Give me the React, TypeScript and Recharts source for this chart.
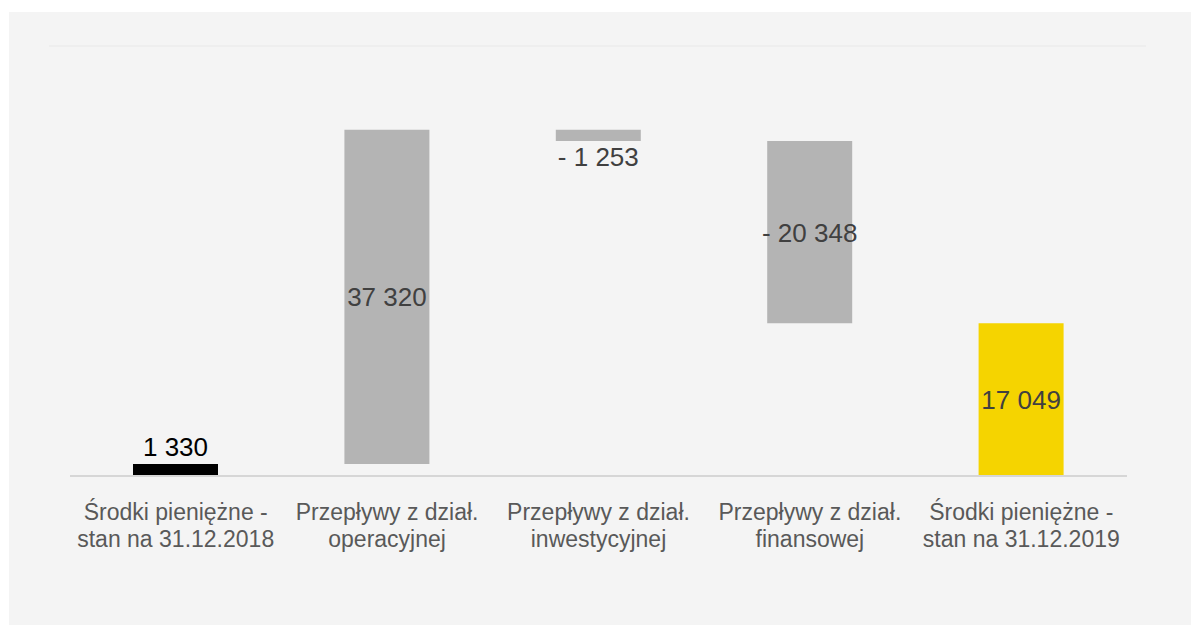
import { Bar, BarChart, Cell, LabelList, ReferenceLine, XAxis, YAxis } from "recharts";

const categories = [
  ["Środki pieniężne -", "stan na 31.12.2018"],
  ["Przepływy z dział.", "operacyjnej"],
  ["Przepływy z dział.", "inwestycyjnej"],
  ["Przepływy z dział.", "finansowej"],
  ["Środki pieniężne -", "stan na 31.12.2019"],
];
const values = [1330, 37320, -1253, -20348, 17049];
const isTotal = [true, false, false, false, true];
const barColors = ["#000000", "#b4b4b4", "#b4b4b4", "#b4b4b4", "#f5d400"];
const labelPlacement = ["top", "center", "below", "center", "center"];

// waterfall: invisible base + visible step
let running = 0;
const rows = values.map((v, i) => {
  let base = 0;
  if (isTotal[i]) {
    running = v;
    base = 0;
  } else {
    base = v >= 0 ? running : running + v;
    running += v;
  }
  return { name: categories[i][0] + " " + categories[i][1], idx: i, base, step: Math.abs(v), value: v };
});

const fmt = (n: number) =>
  (n < 0 ? "- " : "") + Math.abs(n).toString().replace(/\B(?=(\d{3})+(?!\d))/g, " ");

const FONT = "'Liberation Sans', Arial, sans-serif";

function CategoryTick({ x, y, payload }: any) {
  const lines = categories[payload.index] ?? [];
  return (
    <text x={x} y={y} textAnchor="middle" fill="#595959" fontSize={23} fontFamily={FONT}>
      {lines.map((l, i) => (
        <tspan key={i} x={x} dy={i === 0 ? 36 : 27}>
          {l}
        </tspan>
      ))}
    </text>
  );
}

function StepLabel(props: any) {
  const { x, y, width, height, index } = props;
  const v = values[index];
  const place = labelPlacement[index];
  const cx = x + width / 2;
  let ty = y + height / 2 + 9.5;
  if (place === "top") ty = y - 8;
  if (place === "below") ty = y + height + 25;
  return (
    <text
      x={cx}
      y={ty}
      textAnchor="middle"
      fill={index === 0 ? "#000000" : "#404040"}
      fontSize={26}
      fontFamily={FONT}
    >
      {fmt(v)}
    </text>
  );
}

function GridShape(props: any) {
  const { x1, x2, y1 } = props;
  return <line x1={x1 - 21} x2={x2 + 19} y1={y1} y2={y1} stroke="#e8e8e8" strokeWidth={1} />;
}

export default function App() {
  return (
    <div
      style={{
        position: "absolute",
        left: 9,
        top: 12,
        width: 1182,
        height: 613,
        background: "#f4f4f4",
      }}
    >
      <BarChart
        width={1182}
        height={613}
        data={rows}
        margin={{ top: 34, right: 64, bottom: 0, left: 61 }}
        barSize={85}
      >
        <YAxis hide domain={[0, 48000]} ticks={[0, 48000]} />
        <XAxis
          dataKey="name"
          interval={0}
          tickLine={false}
          axisLine={{ stroke: "#d6d6d6", strokeWidth: 2 }}
          tick={<CategoryTick />}
          height={149}
        />
        <ReferenceLine y={48000} shape={<GridShape />} />
        <Bar dataKey="base" stackId="w" fill="transparent" isAnimationActive={false} />
        <Bar dataKey="step" stackId="w" isAnimationActive={false}>
          {rows.map((r) => (
            <Cell key={r.idx} fill={barColors[r.idx]} />
          ))}
          <LabelList dataKey="step" content={<StepLabel />} />
        </Bar>
      </BarChart>
    </div>
  );
}
